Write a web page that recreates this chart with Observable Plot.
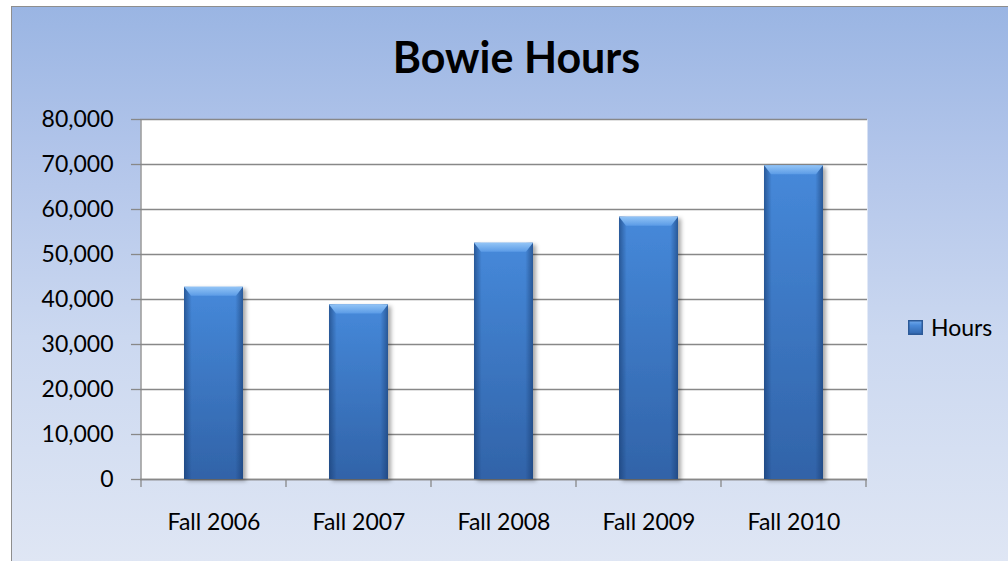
<!DOCTYPE html>
<html>
<head>
<meta charset="utf-8">
<script src="https://cdn.jsdelivr.net/npm/d3@7"></script>
<script src="https://cdn.jsdelivr.net/npm/@observablehq/plot@0.6"></script>
<style>
  html, body { margin: 0; padding: 0; background: #fff; }
  #chart {
    position: relative; width: 1008px; height: 561px; overflow: hidden;
    font-family: Lato, "Open Sans", sans-serif; color: #000;
  }
  #bg {
    position: absolute; left: 11px; top: 6px; width: 1200px; height: 800px;
    border-left: 1.5px solid #8e8e8e; border-top: 1.5px solid #8e8e8e;
    background: linear-gradient(to bottom, #9ab5e3 0px, #b2c5ea 150px, #cbd8f0 330px, #dfe6f4 555px, #e2e9f5 800px);
  }
  #title {
    position: absolute; left: 0; width: 1033px; top: 35px; text-align: center;
    font-weight: 700; font-size: 43px; line-height: 43px; white-space: nowrap;
  }
  #legend { position: absolute; left: 908px; top: 316px; height: 23px; display: flex; align-items: center; }
  #swatch {
    width: 15px; height: 15px; box-sizing: border-box;
    background: linear-gradient(to bottom, #78b0f0 0%, #4a8ad9 35%, #2f63a9 100%);
    box-shadow: inset 0 0 0 1.5px #2c5a98;
  }
  #legend span { margin-left: 8px; font-size: 23px; line-height: 23px; }
  #plot { position: absolute; left: 0; top: 0; }
</style>
</head>
<body>
<div id="chart">
  <div id="bg"></div>
  <div id="title"></div>
  <div id="legend"><div id="swatch"></div><span id="legendLabel"></span></div>
  <div id="plot"></div>
</div>
<script>
const titleText = "Bowie Hours";
const seriesName = "Hours";
const categories = ["Fall 2006", "Fall 2007", "Fall 2008", "Fall 2009", "Fall 2010"];
const hours = [42700, 38800, 52500, 58300, 69700];
const yTicks = [0, 10000, 20000, 30000, 40000, 50000, 60000, 70000, 80000];

document.getElementById("title").textContent = titleText;
document.getElementById("legendLabel").textContent = seriesName;

const axisGray = "#888888";

function defsMark() {
  const defs = d3.create("svg:defs");
  const gv = defs.append("linearGradient").attr("id", "barV").attr("x1", 0).attr("y1", 0).attr("x2", 0).attr("y2", 1);
  gv.append("stop").attr("offset", "0%").attr("stop-color", "#4689da");
  gv.append("stop").attr("offset", "100%").attr("stop-color", "#3163a8");
  const gh = defs.append("linearGradient").attr("id", "barH").attr("x1", 0).attr("y1", 0).attr("x2", 1).attr("y2", 0);
  gh.append("stop").attr("offset", "0%").attr("stop-color", "#163a6e").attr("stop-opacity", 0.6);
  gh.append("stop").attr("offset", "13%").attr("stop-color", "#163a6e").attr("stop-opacity", 0);
  gh.append("stop").attr("offset", "87%").attr("stop-color", "#163a6e").attr("stop-opacity", 0);
  gh.append("stop").attr("offset", "100%").attr("stop-color", "#163a6e").attr("stop-opacity", 0.6);
  const gb = defs.append("linearGradient").attr("id", "bevel").attr("x1", 0).attr("y1", 0).attr("x2", 0).attr("y2", 1);
  gb.append("stop").attr("offset", "0%").attr("stop-color", "#92c4f6");
  gb.append("stop").attr("offset", "100%").attr("stop-color", "#5b9be6");
  const f = defs.append("filter").attr("id", "shadow").attr("x", "-20%").attr("y", "-5%").attr("width", "150%").attr("height", "115%");
  f.append("feDropShadow").attr("dx", 3).attr("dy", 2).attr("stdDeviation", 2.2)
    .attr("flood-color", "#000").attr("flood-opacity", 0.35);
  return defs.node();
}

function bandWidthOf(sx, dims) {
  if (sx && typeof sx.bandwidth === "function") return sx.bandwidth();
  if (sx && typeof sx.bandwidth === "number") return sx.bandwidth;
  return (dims.width - dims.marginLeft - dims.marginRight) / categories.length * 0.41;
}

// top bevel of each bar
function bevelMark(index, scales, values, dims) {
  const sx = scales.x, sy = scales.y;
  const bw = bandWidthOf(sx, dims);
  const b = 9, s = 7;
  const g = d3.create("svg:g");
  categories.forEach((c, i) => {
    const x0 = sx(c), x1 = x0 + bw, yt = sy(hours[i]);
    g.append("polygon")
      .attr("points", [[x0, yt], [x1, yt], [x1 - s, yt + b], [x0 + s, yt + b]].map(p => p.join(",")).join(" "))
      .attr("fill", "url(#bevel)");
  });
  return g.node();
}

// category boundary ticks and left axis line
function axisLines(index, scales, values, dims) {
  const sx = scales.x, sy = scales.y;
  const n = categories.length;
  const step = (sx && typeof sx.step === "function") ? sx.step() : (dims.width - dims.marginLeft - dims.marginRight) / n;
  const bw = bandWidthOf(sx, dims);
  const y0 = sy(0);
  const g = d3.create("svg:g").attr("stroke", axisGray).attr("stroke-width", 1.3);
  const bounds = categories.map(c => sx(c) + bw / 2 - step / 2);
  bounds.push(bounds[n - 1] + step);
  bounds.forEach(x => g.append("line").attr("x1", x).attr("x2", x).attr("y1", y0).attr("y2", y0 + 8));
  g.append("line").attr("x1", bounds[0]).attr("x2", bounds[0]).attr("y1", sy(yTicks[yTicks.length - 1])).attr("y2", y0);
  return g.node();
}

const chart = Plot.plot({
  width: 1008,
  height: 561,
  marginLeft: 140,
  marginRight: 141,
  marginTop: 119,
  marginBottom: 82,
  style: { background: "transparent", fontFamily: "Lato, 'Open Sans', sans-serif", fontSize: "23px", color: "#000", overflow: "visible" },
  x: { domain: categories, paddingInner: 0.59, paddingOuter: 0.295, label: null },
  y: { domain: [0, 80000], label: null },
  marks: [
    defsMark,
    Plot.frame({ fill: "white", stroke: null }),
    Plot.gridY(yTicks, { stroke: axisGray, strokeOpacity: 1, strokeWidth: 1.3 }),
    Plot.axisY(yTicks, { tickSize: 9, tickPadding: 18, stroke: axisGray, strokeWidth: 1.3, tickFormat: d3.format(","), fontSize: 23, label: null }),
    Plot.axisX({ tickSize: 0, tickPadding: 34, fontSize: 23, label: null }),
    Plot.ruleY([0], { stroke: axisGray, strokeWidth: 1.3 }),
    axisLines,
    Plot.barY(categories, { x: categories, y: hours, fill: "url(#barV)" }),
    Plot.barY(categories, { x: categories, y: hours, fill: "url(#barH)" }),
    bevelMark
  ]
});

const barGroups = chart.querySelectorAll('g[aria-label="bar"]');
if (barGroups.length) barGroups[0].setAttribute("filter", "url(#shadow)");
document.getElementById("plot").appendChild(chart);
</script>
</body>
</html>
